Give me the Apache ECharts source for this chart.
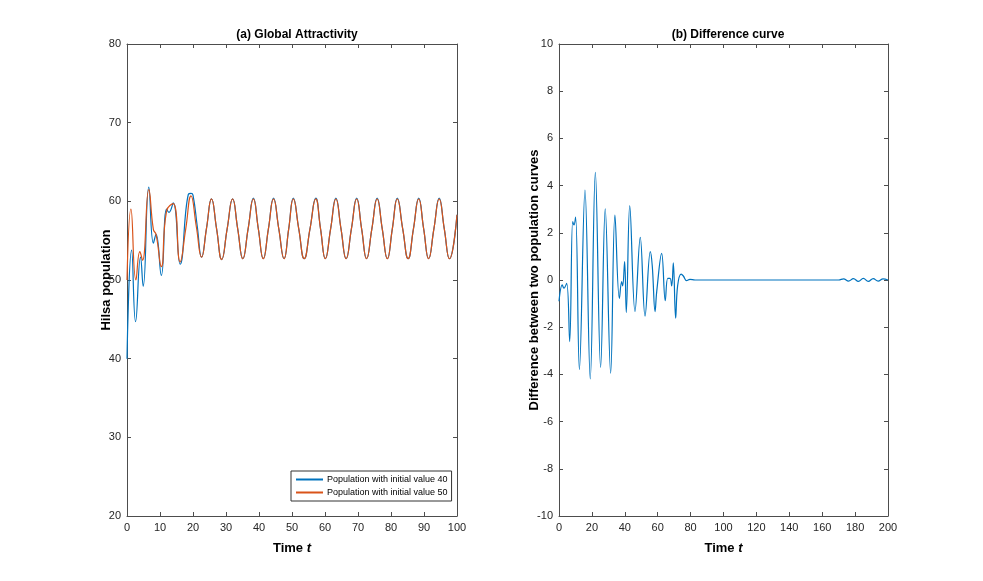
<!DOCTYPE html>
<html>
<head>
<meta charset="utf-8">
<script src="https://cdn.jsdelivr.net/npm/echarts@6/dist/echarts.min.js"></script>
<style>
  html, body { margin: 0; padding: 0; background: #fff; }
  #main { width: 983px; height: 581px; }
</style>
</head>
<body>
<div id="main"></div>
<script>
// (a) population starting from 40 (turning points + crossings)
var t40 = [0, 1.4, 2.6, 4.1, 4.9, 6.6, 8.0, 8.8, 10.4, 12.0, 12.7, 14.0, 16.1, 18.6, 19.4, 20.0, 21.3, 22.6,
  24.1, 25.6, 27.15, 28.7, 30.35, 32.0, 33.55, 35.1, 36.7, 38.3, 39.8, 41.3, 42.85, 44.4,
  46.0, 47.6, 49.0, 50.4, 52.05, 53.7, 55.45, 57.2, 58.65, 60.1, 61.7, 63.3, 64.85, 66.4,
  68.0, 69.6, 71.1, 72.6, 74.2, 75.8, 77.35, 78.9, 80.4, 81.9, 83.55, 85.2, 86.8, 88.4,
  89.9, 91.4, 93.0, 94.6, 96.15, 97.7, 100];
var v40 = [40, 53.8, 44.7, 52.9, 49.2, 61.8, 54.7, 55.8, 50.6, 59.0, 58.6, 59.8, 52.0, 60.9, 61.0, 60.8, 56.8, 52.9,
  56.6, 60.3, 56.5, 52.6, 56.5, 60.3, 56.5, 52.7, 56.5, 60.4, 56.5, 52.7, 56.5, 60.4,
  56.5, 52.7, 56.5, 60.4, 56.5, 52.7, 56.5, 60.4, 56.5, 52.7, 56.5, 60.4, 56.5, 52.7,
  56.5, 60.4, 56.5, 52.7, 56.5, 60.4, 56.5, 52.7, 56.5, 60.4, 56.5, 52.7, 56.5, 60.4,
  56.5, 52.7, 56.5, 60.4, 56.5, 52.7, 58.3];

// (a) population starting from 50
var t50 = [0, 1.2, 2.7, 3.9, 4.7, 6.6, 8.0, 8.8, 10.4, 12.0, 14.0, 16.1, 17.8, 19.4, 21.0, 22.6,
  24.1, 25.6, 27.15, 28.7, 30.35, 32.0, 33.55, 35.1, 36.7, 38.3, 39.8, 41.3, 42.85, 44.4,
  46.0, 47.6, 49.0, 50.4, 52.05, 53.7, 55.45, 57.2, 58.65, 60.1, 61.7, 63.3, 64.85, 66.4,
  68.0, 69.6, 71.1, 72.6, 74.2, 75.8, 77.35, 78.9, 80.4, 81.9, 83.55, 85.2, 86.8, 88.4,
  89.9, 91.4, 93.0, 94.6, 96.15, 97.7, 100];
var v50 = [50, 59.0, 50.0, 53.6, 52.5, 61.5, 56.4, 55.8, 51.7, 58.8, 59.7, 52.3, 56.5, 60.7, 56.8, 52.9,
  56.6, 60.3, 56.5, 52.6, 56.5, 60.3, 56.5, 52.7, 56.5, 60.3, 56.5, 52.7, 56.5, 60.3,
  56.5, 52.7, 56.5, 60.3, 56.5, 52.7, 56.5, 60.3, 56.5, 52.7, 56.5, 60.3, 56.5, 52.7,
  56.5, 60.3, 56.5, 52.7, 56.5, 60.3, 56.5, 52.7, 56.5, 60.3, 56.5, 52.7, 56.5, 60.3,
  56.5, 52.7, 56.5, 60.3, 56.5, 52.7, 58.3];

// (b) difference curve
var tDiff = [0, 2.0, 3.0, 4.7, 6.5, 8.3, 9.1, 10.1, 12.4, 15.8, 19.0, 22.1, 25.3, 28.1, 31.4,
  34.0, 36.7, 38.1, 38.7, 39.9, 40.9, 43.0, 46.2, 49.4, 52.3, 55.5, 56.7, 58.4, 59.4,
  62.4, 64.6, 66.1, 67.5, 68.5, 69.5, 70.9, 72.1, 74.2, 75.6, 77.6, 79.6, 82.7,
  100, 120, 140, 160, 170, 173, 176, 179, 182, 185, 188, 191, 194, 197, 200];
var vDiff = [-0.9, -0.21, -0.35, -0.14, -2.61, 2.47, 2.33, 2.66, -3.79, 3.81, -4.19, 4.56, -3.70, 3.01, -3.95,
  2.75, -0.78, -0.07, -0.25, 0.78, -1.38, 3.15, -1.34, 1.81, -1.53, 1.20, 0.59, -1.34, -0.49,
  1.13, -0.88, 0.07, 0.07, -0.25, 0.73, -1.62, -0.25, 0.25, 0.17, -0.03, 0.03, 0.0,
  0.0, 0.0, 0.0, 0.0, 0.0, 0.05, -0.05, 0.06, -0.06, 0.07, -0.06, 0.06, -0.05, 0.05, 0.0];

var xTicksA = [0, 10, 20, 30, 40, 50, 60, 70, 80, 90, 100];
var yTicksA = [20, 30, 40, 50, 60, 70, 80];
var xTicksB = [0, 20, 40, 60, 80, 100, 120, 140, 160, 180, 200];
var yTicksB = [-10, -8, -6, -4, -2, 0, 2, 4, 6, 8, 10];

var legendNames = ['Population with initial value 40', 'Population with initial value 50'];

function pairs(xs, ys) {
  var res = [];
  for (var i = 0; i < xs.length; i++) {
    res.push([xs[i], ys[i]]);
  }
  return res;
}

var font = 'Liberation Sans';
var axisCol = '#4d4d4d';

function axis(grid, ticks, pos, opts) {
  var a = {
    type: 'value',
    gridIndex: grid,
    position: pos,
    min: ticks[0],
    max: ticks[ticks.length - 1],
    interval: ticks[1] - ticks[0],
    splitLine: { show: false },
    axisLine: { show: true, onZero: false, lineStyle: { color: axisCol, width: 1 } },
    axisTick: { show: true, inside: true, length: 4, lineStyle: { color: axisCol } },
    axisLabel: { show: !opts.mirror, color: '#262626', fontFamily: font, fontSize: 11, margin: 6 }
  };
  if (opts.name) {
    a.name = opts.name;
    a.nameLocation = 'middle';
    a.nameGap = opts.gap;
    a.nameMoveOverlap = false;
    a.nameTextStyle = { color: '#000', fontFamily: font, fontSize: 13, fontWeight: 'bold', rich: opts.rich };
  }
  return a;
}

var timeRich = {
  n: { fontWeight: 'bold', fontSize: 13, fontFamily: font, color: '#000' },
  it: { fontStyle: 'italic', fontWeight: 'bold', fontSize: 13, fontFamily: font, color: '#000' }
};

var option = {
  backgroundColor: '#fff',
  animation: false,
  title: [
    { text: '(a) Global Attractivity', left: 292, top: 24, textAlign: 'center',
      textStyle: { fontFamily: font, fontSize: 12, fontWeight: 'bold', color: '#000' } },
    { text: '(b) Difference curve', left: 723, top: 24, textAlign: 'center',
      textStyle: { fontFamily: font, fontSize: 12, fontWeight: 'bold', color: '#000' } }
  ],
  legend: {
    data: legendNames,
    orient: 'vertical',
    left: 291,
    top: 471,
    padding: [4, 4, 4, 5],
    itemGap: 4,
    itemWidth: 27,
    itemHeight: 2,
    icon: 'rect',
    borderColor: '#333',
    borderWidth: 1,
    borderRadius: 0,
    backgroundColor: '#fff',
    textStyle: { fontFamily: font, fontSize: 9, color: '#000', padding: [0, 0, 0, -1] }
  },
  grid: [
    { left: 127, top: 44, width: 330, height: 472 },
    { left: 559, top: 44, width: 329, height: 472 }
  ],
  xAxis: [
    axis(0, xTicksA, 'bottom', { name: '{n|Time }{it|t}', gap: 26, rich: timeRich }),
    axis(0, xTicksA, 'top', { mirror: true }),
    axis(1, xTicksB, 'bottom', { name: '{n|Time }{it|t}', gap: 26, rich: timeRich }),
    axis(1, xTicksB, 'top', { mirror: true })
  ],
  yAxis: [
    axis(0, yTicksA, 'left', { name: 'Hilsa population', gap: 14 }),
    axis(0, yTicksA, 'right', { mirror: true }),
    axis(1, yTicksB, 'left', { name: 'Difference between two population curves', gap: 18 }),
    axis(1, yTicksB, 'right', { mirror: true })
  ],
  series: [
    {
      name: legendNames[0],
      type: 'line',
      xAxisIndex: 0,
      yAxisIndex: 0,
      data: pairs(t40, v40),
      smooth: 0.5,
      showSymbol: false,
      lineStyle: { color: '#0072bd', width: 1.2 },
      itemStyle: { color: '#0072bd' }
    },
    {
      name: legendNames[1],
      type: 'line',
      xAxisIndex: 0,
      yAxisIndex: 0,
      data: pairs(t50, v50),
      smooth: 0.5,
      showSymbol: false,
      lineStyle: { color: '#d95319', width: 1.2 },
      itemStyle: { color: '#d95319' }
    },
    {
      name: 'diff',
      type: 'line',
      xAxisIndex: 2,
      yAxisIndex: 2,
      data: pairs(tDiff, vDiff),
      smooth: 0.4,
      showSymbol: false,
      lineStyle: { color: '#0072bd', width: 1.2 },
      itemStyle: { color: '#0072bd' }
    }
  ]
};

var chart = echarts.init(document.getElementById('main'), null, { renderer: 'canvas' });
chart.setOption(option);
</script>
</body>
</html>
